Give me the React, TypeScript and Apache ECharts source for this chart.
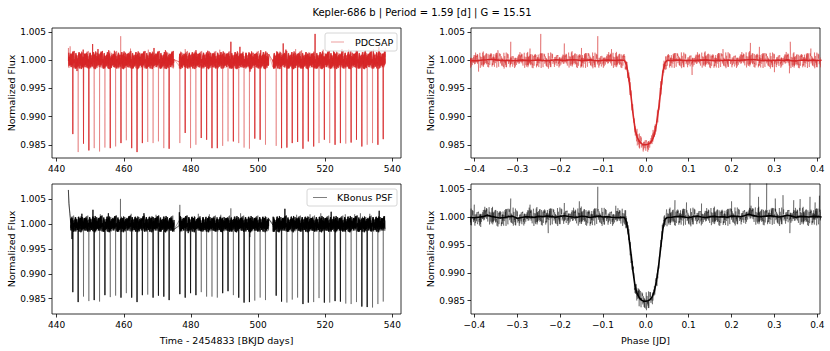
import React, { useEffect, useRef } from 'react';
import * as echarts from 'echarts';

const FONT = 'DejaVu Sans';
const TITLE = 'Kepler-686 b | Period = 1.59 [d] | G = 15.51';
const PERIOD = 1.595;
const T0 = 444.8;
const TIME_START = 443.48;
const TIME_END = 537.9;
const CADENCE = 0.0204;
const GAPS = [[475.0, 476.5], [503.2, 504.4]];

const TIME_TICKS = [440, 460, 480, 500, 520, 540];
const PHASE_TICKS = [-0.4, -0.3, -0.2, -0.1, 0, 0.1, 0.2, 0.3, 0.4];
const FLUX_TICKS = [0.985, 0.99, 0.995, 1.0, 1.005];

// minimum flux of each transit (null = in data gap)
const PDCSAP_DEPTH = [
  0.9869, 0.9837, 0.9852, 0.9840, 0.9844, 0.9838, 0.9845, 0.9844, 0.9847, 0.9853,
  0.9858, 0.9844, 0.9837, 0.9853, 0.9855, 0.9853, 0.9856, 0.9844, 0.9843, null,
  0.9853, 0.9871, 0.9844, 0.9850, 0.9862, 0.9859, 0.9844, 0.9844, 0.9848, 0.9856,
  0.9856, 0.9853, 0.9845, 0.9843, 0.9861, 0.9859, 0.9850, null, 0.9848, 0.9844,
  0.9845, 0.9853, 0.9855, 0.9843, 0.9856, 0.9847, 0.9853, 0.9859, 0.9853, 0.9850,
  0.9853, 0.9852, 0.9854, 0.9859, 0.9847, 0.9850, 0.9853, 0.9850, 0.9860,
];
const KBONUS_DEPTH = [
  0.9863, 0.9843, 0.9854, 0.9845, 0.9847, 0.9844, 0.9857, 0.9853, 0.9856, 0.9852,
  0.9861, 0.9852, 0.9843, 0.9857, 0.9858, 0.9852, 0.9856, 0.9854, 0.9847, null,
  0.9859, 0.9852, 0.9861, 0.9857, 0.9863, 0.9854, 0.9854, 0.9852, 0.9861, 0.9865,
  0.9857, 0.9852, 0.9842, 0.9843, 0.9846, 0.9852, 0.9847, null, 0.9856, 0.9844,
  0.9842, 0.9848, 0.9852, 0.9839, 0.9842, 0.9843, 0.9851, 0.9842, 0.9842, 0.9845,
  0.9844, 0.9840, 0.9839, 0.9843, 0.9834, 0.9833, 0.9832, 0.9839, 0.9844,
];

// excursions
const PDCSAP_EVENT_T = [443.5, 444.0, 446.05, 447.9, 450.7, 452.3, 455.5, 457.2, 459.07, 462.0, 465.6, 467.3, 469.0, 472.4, 478.3, 481.5, 485.0, 488.6, 491.9, 494.6, 497.6, 500.8, 505.6, 507.5, 508.3, 511.2, 513.0, 517.0, 519.4, 522.5, 525.0, 527.0, 529.3, 532.0, 534.4, 536.0, 537.9];
const PDCSAP_EVENT_F = [1.0022, 1.0025, 0.9981, 1.0019, 1.0029, 1.0020, 1.0018, 1.0017, 1.0043, 1.0021, 0.9983, 1.0019, 1.0022, 1.0018, 1.0020, 1.0018, 1.0017, 1.0019, 1.0033, 1.0024, 0.9980, 1.0018, 1.0016, 1.0030, 1.0019, 1.0020, 1.0018, 1.0047, 1.0019, 1.0017, 1.0020, 1.0020, 1.0018, 1.0018, 1.0019, 1.0024, 1.0022];
const KBONUS_EVENT_T = [443.48, 443.55, 443.65, 443.78, 443.92, 444.1, 444.56, 447.5, 450.8, 453.0, 455.4, 459.0, 462.2, 466.0, 469.6, 476.55, 476.7, 476.9, 477.5, 478.3, 479.2, 482.2, 485.5, 488.9, 491.9, 494.8, 497.6, 504.5, 508.0, 511.5, 515.5, 518.7, 521.8, 526.0, 528.8, 530.5, 533.3, 536.1];
const KBONUS_EVENT_F = [1.0069, 1.0055, 1.0042, 1.0031, 1.0022, 1.0012, 0.9970, 1.0021, 1.0029, 1.0020, 1.0022, 1.0051, 1.0021, 1.0022, 1.0019, 1.0024, 1.0039, 1.0012, 0.9990, 0.9976, 0.9982, 1.0021, 1.0020, 1.0019, 1.0032, 1.0022, 0.9974, 1.0015, 1.0031, 1.0019, 1.0020, 1.0022, 1.0025, 1.0020, 1.0020, 1.0022, 1.0021, 1.0027];

// scatter around the baseline, in units of 1e-5
const NOISE = [
  18, -42, 35, -9, 51, -27, 6, -63, 29, 44, -15, -38, 72, -4, 21, -55, 13, 38, -31, -8,
  60, -22, -47, 15, 33, -70, 9, 27, -18, 48, -36, 2, -58, 41, 17, -25, 66, -12, -44, 30,
  -5, 53, -29, 11, -66, 24, 39, -16, -3, 57, -40, 20, -51, 8, 45, -34, -11, 76, -23, 14,
  -49, 32, -7, 43, -60, 26, 5, -37, 58, -19, -1, 37, -53, 12, 49, -28, -14, 64, -45, 22,
  -33, 7, 52, -21, -68, 31, 16, -41, 40, -10, -2, 61, -35, 19, -57, 28, 10, -46, 47, -17,
  3, -30, 55, -24, -62, 36, 13, -39, 69, -6, -48, 25, -13, 42, -26, -71, 34, 4, -43, 50,
  -20, 23, -56, 46, -8, -32, 63, -15, 1, -52, 30, 18, -37, 59, -27, -9, 39, -64, 21, 11,
  -45, 54, -18, -3, -36, 47, 26, -59, 8, 35, -22, -50, 67, -12, 15, -41, 28, -4, -54, 44,
  -29, 6, 57, -16, -38, 22, -67, 40, 12, -25, 51, -7, -47, 33, -19, 62, -34, 2, -58, 27,
  17, -43, 45, -11, -31, 70, -24, 9, -53, 37, -14, 24, -61, 48, -5, -35, 56, -21, 29, -44,
  13, -2, 41, -28, -65, 50, 7,
];

// binned folded curves: out-of-transit offsets (1e-5) every 0.01, transit every 0.005
const FOLD_RED_LEFT = [-5, -8, -2, 5, 12, 20, 8, 2, -4, 3, -6, -2, 4, 0, -5, 3, 6, -3, -8, 2, 10, 4, -2, 5, 12, 6, -4, 2, 8, -3, -6, 0, 5, 2, -2, 4, 3];
const FOLD_RED_TRANSIT = [0.9992, 0.9970, 0.9940, 0.9906, 0.9878, 0.9863, 0.9856, 0.9852, 0.9850, 0.9850, 0.9851, 0.9853, 0.9858, 0.9868, 0.9887, 0.9914, 0.9948, 0.9980, 0.9996];
const FOLD_RED_RIGHT = [2, -3, 4, 6, -2, 3, -5, 0, 4, 8, 2, -4, 3, -2, 5, 1, -3, 2, 6, 10, 14, 6, -2, 3, -4, 2, 5, -3, 8, -6, -10, 2, 6, -2, 4, -3, 2];
const FOLD_BLK_LEFT = [-10, -15, -5, 5, 30, 10, -5, -20, -10, 5, 10, -25, -10, 5, 0, -8, 10, 5, 15, 5, -5, 10, 20, 8, 0, -5, 12, 6, -10, 5, 15, 0, 5, -5, -10, -8, -5];
const FOLD_BLK_TRANSIT = [0.9991, 0.9968, 0.9937, 0.9903, 0.9876, 0.9862, 0.9855, 0.9851, 0.9849, 0.9849, 0.9850, 0.9852, 0.9857, 0.9867, 0.9886, 0.9913, 0.9947, 0.9979, 0.9996];
const FOLD_BLK_RIGHT = [-10, -5, 5, 10, 0, -15, 5, 15, 0, -10, 5, 10, 0, 5, -5, 15, 10, 5, 20, 50, 25, 10, 5, 15, 20, 10, 0, 10, 30, 15, -5, 10, 5, 0, 10, 5, 0];

const RED_FOLD_EVENT_P = [-0.39, -0.345, -0.315, -0.27, -0.245, -0.19, -0.15, -0.112, -0.08, 0.108, 0.18, 0.244, 0.265, 0.3, 0.335, 0.337, 0.385];
const RED_FOLD_EVENT_F = [0.9980, 1.0018, 1.0033, 1.0021, 1.0047, 1.0030, 1.0022, 1.0043, 1.0020, 0.9974, 1.0020, 1.0031, 1.0024, 0.9979, 0.9977, 1.0033, 1.0021];
const BLK_FOLD_EVENT_P = [-0.40, -0.385, -0.315, -0.27, -0.2275, -0.19, -0.155, -0.112, -0.07, 0.068, 0.095, 0.13, 0.2, 0.243, 0.263, 0.282, 0.302, 0.32, 0.336, 0.345, 0.36, 0.383, 0.395, 0.405];
const BLK_FOLD_EVENT_F = [1.0022, 0.9982, 1.0033, 1.0022, 0.9971, 1.0025, 1.0028, 1.0054, 1.0020, 1.0030, 1.0026, 1.0024, 1.0028, 1.0068, 1.0036, 1.0068, 1.0033, 1.0039, 0.9971, 1.0030, 1.0032, 1.0036, 1.0026, 1.0038];

const N = NOISE.length;

function buildTimeSeries(depths, evT, evF, scale, off, noiseStart) {
  const pts = [];
  for (let i = 0; ; i++) {
    const t = TIME_START + i * CADENCE;
    if (t > TIME_END) break;
    if (t < noiseStart) continue;
    if (GAPS.some(([a, b]) => t > a && t < b)) continue;
    const k = Math.round((t - T0) / PERIOD);
    if (k >= 0 && k < depths.length && depths[k] !== null && Math.abs(t - (T0 + k * PERIOD)) < 0.03) continue;
    pts.push([t, 1 + NOISE[(i * 13 + off) % N] * 1e-5 * scale]);
  }
  depths.forEach((d, k) => {
    if (d !== null) pts.push([T0 + k * PERIOD, d]);
  });
  evT.forEach((t, k) => pts.push([t, evF[k]]));
  pts.sort((a, b) => a[0] - b[0]);
  return pts;
}

function buildBinned(left, transit, right) {
  const pts = [];
  left.forEach((o, i) => pts.push([-0.41 + i * 0.01, 1 + o * 1e-5]));
  transit.forEach((f, i) => pts.push([-0.045 + i * 0.005, f]));
  right.forEach((o, i) => pts.push([0.05 + i * 0.01, 1 + o * 1e-5]));
  return pts;
}

function buildFoldRaw(bins, evP, evF, scale, off) {
  const pts = [];
  let j = 0;
  for (let i = 0; ; i++) {
    const p = -0.41 + i * 0.0005;
    if (p > 0.41 + 1e-9) break;
    while (j < bins.length - 2 && bins[j + 1][0] < p) j++;
    const [p0, f0] = bins[j];
    const [p1, f1] = bins[j + 1];
    const w = Math.min(1, Math.max(0, (p - p0) / (p1 - p0)));
    const base = f0 + (f1 - f0) * w;
    pts.push([p, base + NOISE[(i * 7 + off) % N] * 1e-5 * scale]);
  }
  evP.forEach((p, k) => pts.push([p, evF[k]]));
  pts.sort((a, b) => a[0] - b[0]);
  return pts;
}

const GRIDS = [
  { left: 52, top: 28, width: 349, height: 130 },
  { left: 471, top: 28, width: 349, height: 130 },
  { left: 52, top: 184, width: 349, height: 130 },
  { left: 471, top: 184, width: 349, height: 130 },
];

const fmtFlux = (v) => v.toFixed(3);
const fmtTime = (v) => String(Math.round(v));
const fmtPhase = (v) => (v < -1e-9 ? '\u2212' : '') + Math.abs(v).toFixed(1);

function xAxisDef(gridIndex, min, max, ticks, fmt) {
  return {
    type: 'value', gridIndex, min, max, position: 'bottom',
    axisLine: { show: false, onZero: false }, splitLine: { show: false },
    axisTick: { show: true, length: 3.5, lineStyle: { color: '#000', width: 0.8 }, customValues: ticks },
    axisLabel: { show: true, customValues: ticks, formatter: fmt, color: '#000', fontSize: 9, fontFamily: FONT, margin: 6 },
  };
}
function yAxisDef(gridIndex, min, max) {
  return {
    type: 'value', gridIndex, min, max, position: 'left',
    axisLine: { show: false, onZero: false }, splitLine: { show: false },
    axisTick: { show: true, length: 3.5, lineStyle: { color: '#000', width: 0.8 }, customValues: FLUX_TICKS },
    axisLabel: { show: true, customValues: FLUX_TICKS, formatter: fmtFlux, color: '#000', fontSize: 9, fontFamily: FONT, margin: 6 },
  };
}

function lineSeries(idx, data, color, width, z) {
  return {
    type: 'line', xAxisIndex: idx, yAxisIndex: idx, data,
    showSymbol: false, symbol: 'none', z,
    lineStyle: { color, width }, emphasis: { disabled: true }, silent: true,
  };
}

function buildOption() {
  const tl = buildTimeSeries(PDCSAP_DEPTH, PDCSAP_EVENT_T, PDCSAP_EVENT_F, 2.2, 0, 0);
  const bl = buildTimeSeries(KBONUS_DEPTH, KBONUS_EVENT_T, KBONUS_EVENT_F, 2.3, 91, 444.15);
  const trBin = buildBinned(FOLD_RED_LEFT, FOLD_RED_TRANSIT, FOLD_RED_RIGHT);
  const brBin = buildBinned(FOLD_BLK_LEFT, FOLD_BLK_TRANSIT, FOLD_BLK_RIGHT);
  const trRaw = buildFoldRaw(trBin, RED_FOLD_EVENT_P, RED_FOLD_EVENT_F, 2.0, 37);
  const brRaw = buildFoldRaw(brBin, BLK_FOLD_EVENT_P, BLK_FOLD_EVENT_F, 2.3, 150);

  const text = (x, y, s, extra = {}) => ({
    type: 'text', x, y, z: 100,
    style: { text: s, fill: '#000', font: `9.5px "${FONT}"`, textAlign: 'center', textVerticalAlign: 'middle', ...extra },
  });

  return {
    animation: false,
    backgroundColor: '#fff',
    grid: GRIDS.map((g) => ({ ...g, show: true, borderColor: '#000', borderWidth: 0.8, backgroundColor: 'transparent' })),
    xAxis: [
      xAxisDef(0, 438.6, 542.6, TIME_TICKS, fmtTime),
      xAxisDef(1, -0.4077, 0.4063, PHASE_TICKS, fmtPhase),
      xAxisDef(2, 438.6, 542.6, TIME_TICKS, fmtTime),
      xAxisDef(3, -0.4077, 0.4063, PHASE_TICKS, fmtPhase),
    ],
    yAxis: [
      yAxisDef(0, 0.98265, 1.00575),
      yAxisDef(1, 0.98265, 1.00575),
      yAxisDef(2, 0.9819, 1.0081),
      yAxisDef(3, 0.98262, 1.0059),
    ],
    series: [
      lineSeries(0, tl, 'rgba(214,39,40,0.45)', 0.8, 2),
      lineSeries(0, tl.filter((_, i) => i % 2 === 0), '#d62728', 0.6, 3),
      lineSeries(1, trRaw, 'rgba(214,39,40,0.45)', 0.9, 2),
      lineSeries(1, trBin, '#d62728', 1.6, 3),
      lineSeries(2, bl, 'rgba(0,0,0,0.45)', 0.8, 2),
      lineSeries(2, bl.filter((_, i) => i % 2 === 0), '#000', 0.6, 3),
      lineSeries(3, brRaw, 'rgba(0,0,0,0.4)', 0.9, 2),
      lineSeries(3, brBin, '#000', 1.6, 3),
    ],
    graphic: [
      text(422, 12, TITLE, { font: `10px "${FONT}"` }),
      { ...text(11, 93, 'Normalized Flux'), rotation: Math.PI / 2 },
      { ...text(11, 249, 'Normalized Flux'), rotation: Math.PI / 2 },
      { ...text(430, 93, 'Normalized Flux'), rotation: Math.PI / 2 },
      { ...text(430, 249, 'Normalized Flux'), rotation: Math.PI / 2 },
      text(226.5, 340, 'Time - 2454833 [BKJD days]'),
      text(645.5, 340, 'Phase [JD]'),
      { type: 'rect', z: 100, shape: { x: 325, y: 33, width: 72, height: 18, r: 2 }, style: { fill: 'rgba(255,255,255,0.8)', stroke: '#cccccc', lineWidth: 0.8 } },
      { type: 'line', z: 101, shape: { x1: 331, y1: 42, x2: 344, y2: 42 }, style: { stroke: 'rgba(214,39,40,0.45)', lineWidth: 1 } },
      { ...text(355, 42, 'PDCSAP', { textAlign: 'left' }), z: 101 },
      { type: 'rect', z: 100, shape: { x: 307, y: 189, width: 90, height: 17, r: 2 }, style: { fill: 'rgba(255,255,255,0.8)', stroke: '#cccccc', lineWidth: 0.8 } },
      { type: 'line', z: 101, shape: { x1: 313, y1: 197.5, x2: 327, y2: 197.5 }, style: { stroke: 'rgba(0,0,0,0.5)', lineWidth: 1 } },
      { ...text(337, 197.5, 'KBonus PSF', { textAlign: 'left' }), z: 101 },
    ],
  };
}

export default function App() {
  const ref = useRef<HTMLDivElement>(null);
  useEffect(() => {
    const chart = echarts.init(ref.current!, null, { renderer: 'svg' });
    chart.setOption(buildOption());
    return () => chart.dispose();
  }, []);
  return <div ref={ref} style={{ position: 'fixed', left: 0, top: 0, width: 830, height: 351, background: '#fff' }} />;
}
